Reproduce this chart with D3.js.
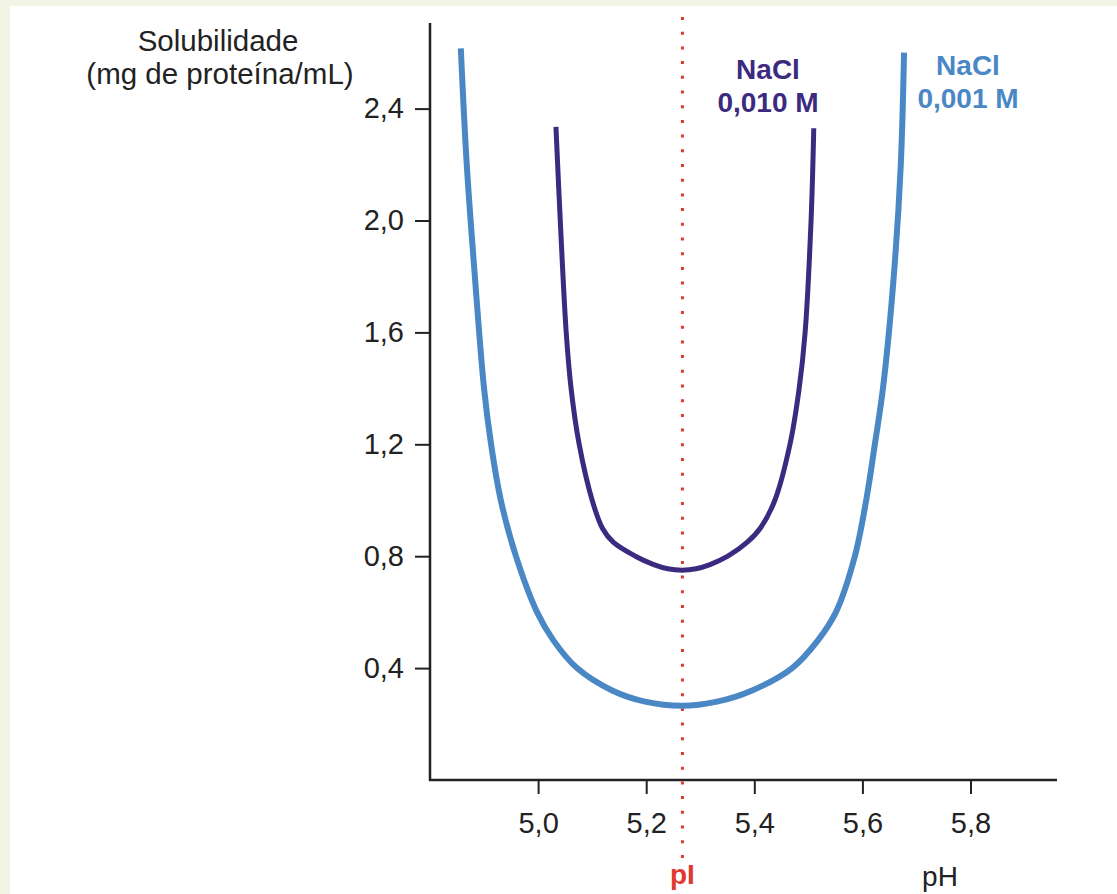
<!DOCTYPE html>
<html><head><meta charset="utf-8">
<script src="https://cdn.jsdelivr.net/npm/d3@7"></script>
<style>
html,body{margin:0;padding:0;background:#f2f4e6;}
svg{display:block;}
text{font-family:"Liberation Sans",Arial,Helvetica,sans-serif;}
</style></head>
<body>
<svg id="chart" width="1117" height="894"></svg>
<script>
// pH values and solubility (mg/mL)
const phNaCl0001 = [4.857,4.868,4.883,4.900,4.913,4.931,4.959,4.998,5.028,5.072,5.137,5.198,5.266,5.331,5.396,5.470,5.518,5.551,5.586,5.607,5.623,5.638,5.658,5.671,5.677];
const solNaCl0001 = [2.615,2.2,1.8,1.4,1.2,1.0,0.8,0.6,0.5,0.4,0.32,0.28,0.265,0.28,0.32,0.4,0.5,0.6,0.8,1.0,1.2,1.4,1.8,2.2,2.60];
const phNaCl0010 = [5.033,5.041,5.052,5.061,5.076,5.100,5.119,5.139,5.180,5.214,5.240,5.266,5.292,5.318,5.351,5.387,5.411,5.438,5.466,5.483,5.494,5.505,5.510];
const solNaCl0010 = [2.335,2.0,1.6,1.4,1.2,1.0,0.9,0.85,0.8,0.77,0.755,0.75,0.755,0.77,0.8,0.85,0.9,1.0,1.2,1.4,1.6,2.0,2.33];
const pI = 5.267;
const xTicks = [5.0,5.2,5.4,5.6,5.8];
const yTicks = [0.4,0.8,1.2,1.6,2.0,2.4];
const seriesLabels = [["NaCl","0,010 M"],["NaCl","0,001 M"]];

const svg = d3.select("#chart");
svg.append("rect").attr("x",10).attr("y",6).attr("width",1107).attr("height",888).attr("fill","#ffffff");

const x = d3.scaleLinear().domain([4.8,5.96]).range([430,1057]);
const y = d3.scaleLinear().domain([0,2.706]).range([780,23]);
const fmt = d => d.toFixed(1).replace(".",",");

// y axis
const ya = svg.append("g").attr("transform","translate(430,0)")
  .call(d3.axisLeft(y).tickValues(yTicks).tickSize(15).tickPadding(11).tickFormat(fmt));
ya.select(".domain").remove();
ya.selectAll("line").attr("stroke","#222").attr("stroke-width",2);
ya.selectAll("text").attr("font-size",29).attr("fill","#222").attr("font-family","Liberation Sans, Arial, sans-serif");
svg.append("line").attr("x1",430).attr("x2",430).attr("y1",23).attr("y2",781).attr("stroke","#222").attr("stroke-width",2.5);

// x axis
const xa = svg.append("g").attr("transform","translate(0,780)")
  .call(d3.axisBottom(x).tickValues(xTicks).tickSize(14).tickPadding(18).tickFormat(fmt));
xa.select(".domain").remove();
xa.selectAll("line").attr("stroke","#222").attr("stroke-width",2);
xa.selectAll("text").attr("font-size",29).attr("fill","#222").attr("font-family","Liberation Sans, Arial, sans-serif");
svg.append("line").attr("x1",429).attr("x2",1057).attr("y1",780).attr("y2",780).attr("stroke","#222").attr("stroke-width",2.5);

// pI dotted line
svg.append("line").attr("x1",x(pI)).attr("x2",x(pI)).attr("y1",17).attr("y2",862)
  .attr("stroke","#e0392e").attr("stroke-width",3).attr("stroke-dasharray","3,11.7");

const line = d3.line().x(d=>x(d[0])).y(d=>y(d[1])).curve(d3.curveCatmullRom.alpha(0.5));
svg.append("path").datum(phNaCl0001.map((p,i)=>[p,solNaCl0001[i]]))
  .attr("d",line).attr("fill","none").attr("stroke","#4a87c5").attr("stroke-width",6);
svg.append("path").datum(phNaCl0010.map((p,i)=>[p,solNaCl0010[i]]))
  .attr("d",line).attr("fill","none").attr("stroke","#3b2a80").attr("stroke-width",5);

// series labels
const lab = (cx, yb, lines, col) => {
  lines.forEach((t,i)=>svg.append("text").attr("x",cx).attr("y",yb+i*33).attr("text-anchor","middle")
    .attr("font-size",28).attr("font-weight","bold").attr("fill",col).text(t));
};
lab(768, 79, seriesLabels[0], "#3b2a80");
lab(968, 75, seriesLabels[1], "#4a87c5");

// axis titles
svg.append("text").attr("x",218).attr("y",51).attr("text-anchor","middle").attr("font-size",29.5).attr("fill","#222").text("Solubilidade");
svg.append("text").attr("x",220).attr("y",84).attr("text-anchor","middle").attr("font-size",29.5).attr("fill","#222").text("(mg de proteína/mL)");
svg.append("text").attr("x",940).attr("y",886).attr("text-anchor","middle").attr("font-size",28).attr("fill","#222").text("pH");
svg.append("text").attr("x",x(pI)).attr("y",884).attr("text-anchor","middle").attr("font-size",28).attr("font-weight","bold").attr("fill","#e0392e").text("pI");
</script>
</body></html>
